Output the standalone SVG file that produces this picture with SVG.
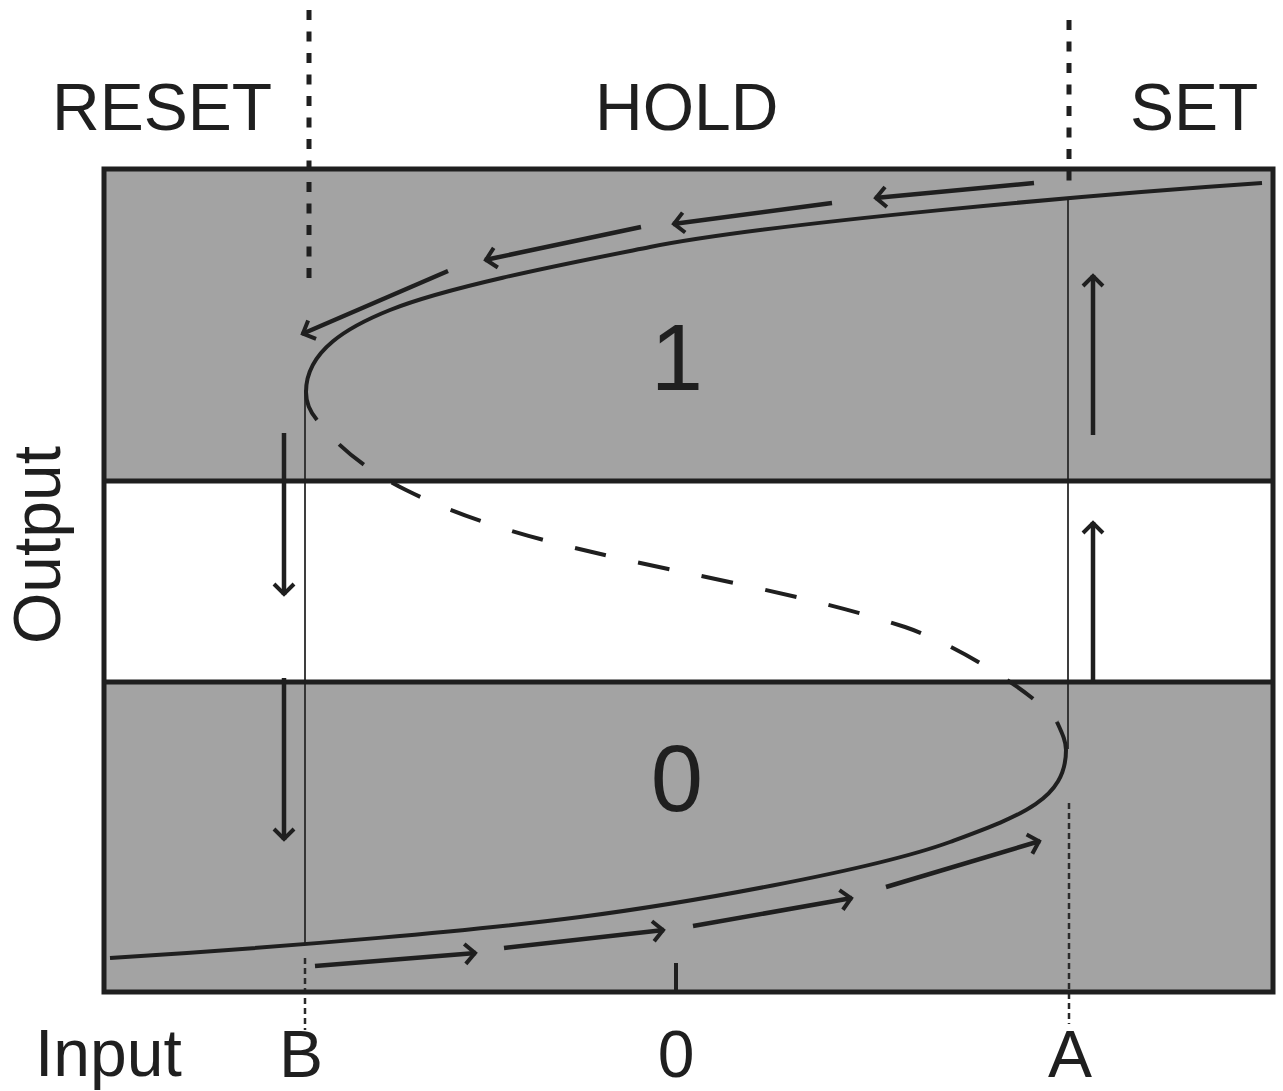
<svg xmlns="http://www.w3.org/2000/svg" width="1283" height="1091" viewBox="0 0 1283 1091">
<defs>
<style>
.ln{stroke:#1f1f1f;fill:none}
.curve{stroke:#1f1f1f;fill:none;stroke-width:4}
.arr{stroke:#1f1f1f;fill:none;stroke-width:4.5;marker-end:url(#ah)}
.thin{stroke:#2a2a2a;fill:none;stroke-width:1.8}
.bdot{stroke:#1f1f1f;fill:none;stroke-width:5;stroke-dasharray:10 11.5}
.fdot{stroke:#2a2a2a;fill:none;stroke-width:2.5;stroke-dasharray:6 4}
.lbl{font-family:"Liberation Sans",Arial,Helvetica,sans-serif;fill:#1f1f1f;font-size:66px}
.big{font-family:"Liberation Sans",Arial,Helvetica,sans-serif;fill:#1f1f1f;font-size:94px;text-anchor:middle}
</style>
<marker id="ah" markerUnits="userSpaceOnUse" viewBox="-14 -12 16 24" refX="0" refY="0" markerWidth="16" markerHeight="24" orient="auto" overflow="visible">
<path d="M-11,-10 L-1,0 L-11,10" fill="none" stroke="#1f1f1f" stroke-width="4"/>
</marker>
</defs>

<g id="frame">
<rect x="104" y="169" width="1169" height="823" fill="#a3a3a3"/>
<rect x="104" y="481" width="1169" height="201" fill="#ffffff"/>
</g>

<g id="guides">
<line class="bdot" x1="309" y1="10" x2="309" y2="284"/>
<line class="bdot" x1="1069" y1="20" x2="1069" y2="184"/>
<line class="thin" x1="305" y1="390" x2="305" y2="944"/>
<line class="thin" x1="1068" y1="197" x2="1068" y2="749"/>
<line class="fdot" x1="305" y1="958" x2="305" y2="1030"/>
<line class="fdot" x1="1069" y1="803" x2="1069" y2="1024"/>
</g>

<g id="frame-borders">
<rect x="104" y="169" width="1169" height="823" class="ln" stroke-width="5"/>
<line class="ln" stroke-width="5" x1="104" y1="481" x2="1273" y2="481"/>
<line class="ln" stroke-width="5" x1="104" y1="682" x2="1273" y2="682"/>
<line class="ln" stroke-width="4" x1="676" y1="963" x2="676" y2="992"/>
</g>

<g id="s-curve">
<path class="curve" d="M1262,183 C1100,194 770,223 650,247 C570,263 450,286 390,310 C350,326 306,350 306,392 C306,404 311,413 317,420"/>
<path class="curve" stroke-dasharray="32 33" stroke-dashoffset="32" d="M317,420 C337,446 366,470 406,490 C466,520 532,538 592,552 C692,576 805,594 905,627 C955,644 1037,694 1057,722"/>
<path class="curve" d="M1057,722 C1063,735 1066,742 1066,750 C1066,800 1020,816 950,842 C870,871 680,904 580,917 C480,930 300,946 110,958"/>
</g>

<g id="connectors">
<line class="arr" x1="1034" y1="183" x2="875" y2="198"/>
<line class="arr" x1="832" y1="203" x2="673" y2="224"/>
<line class="arr" x1="641" y1="227" x2="485" y2="260"/>
<line class="arr" x1="448" y1="271" x2="302" y2="334"/>
<line class="arr" x1="315" y1="966" x2="476" y2="953"/>
<line class="arr" x1="504" y1="948" x2="664" y2="930"/>
<line class="arr" x1="693" y1="926" x2="852" y2="898"/>
<line class="arr" x1="886" y1="887" x2="1040" y2="841"/>
<line class="arr" x1="284" y1="433" x2="284" y2="595"/>
<line class="arr" x1="284" y1="678" x2="284" y2="840"/>
<line class="arr" x1="1093" y1="682" x2="1093" y2="522"/>
<line class="arr" x1="1093" y1="435" x2="1093" y2="275"/>
</g>

<g id="label-reset"><text class="lbl" x="52" y="130">RESET</text></g>
<g id="label-hold"><text class="lbl" x="595" y="130">HOLD</text></g>
<g id="label-set"><text class="lbl" x="1130" y="130">SET</text></g>
<g id="state-1"><text class="big" x="677" y="390">1</text></g>
<g id="state-0"><text class="big" x="677" y="811">0</text></g>
<g id="axis-output"><text class="lbl" text-anchor="middle" transform="translate(60,545) rotate(-90)">Output</text></g>
<g id="axis-input"><text class="lbl" x="35" y="1076">Input</text></g>
<g id="tick-b"><text class="lbl" text-anchor="middle" x="301" y="1077">B</text></g>
<g id="tick-0"><text class="lbl" text-anchor="middle" x="676" y="1077">0</text></g>
<g id="tick-a"><text class="lbl" text-anchor="middle" x="1070" y="1077">A</text></g>
</svg>
